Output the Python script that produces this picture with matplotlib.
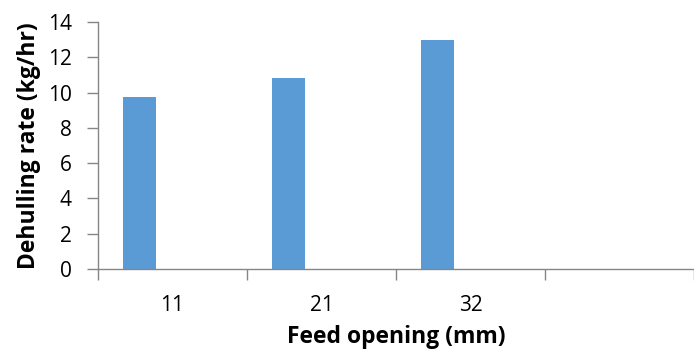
import numpy as np
import matplotlib.pyplot as plt

categories = ['11', '21', '32', '']
rates = [9.75, 10.83, 12.98]

plt.rcParams['font.family'] = ['Open Sans', 'DejaVu Sans']

fig = plt.figure(figsize=(6.94, 3.51), dpi=100)
ax = fig.add_axes([98 / 694, 1 - 269 / 351, 596 / 694, 247 / 351])

# Excel style: three series slots, gap width 150%, only the first has data
w = 1 / 4.5
x = np.arange(len(categories))
ax.bar(x[:len(rates)] - w, rates, width=w, color='#5b9bd5', zorder=2)

ax.set_xlim(-0.5, len(categories) - 0.5)
ax.set_ylim(0, 14)
ax.set_yticks(np.arange(0, 15, 2))

# category boundaries get the tick marks, labels sit in the middle
ax.set_xticks(np.arange(-0.5, len(categories), 1.0))
ax.set_xticklabels([])
ax.set_xticks(x, minor=True)
ax.set_xticklabels(categories, minor=True)
ax.tick_params(axis='x', which='minor', length=0, pad=19, labelsize=15)
ax.tick_params(axis='x', which='major', length=8, width=1, color='#868686')
ax.tick_params(axis='y', length=8, width=1, color='#868686', labelsize=15, pad=11)

for s in ['top', 'right']:
    ax.spines[s].set_visible(False)
for s in ['left', 'bottom']:
    ax.spines[s].set_color('#868686')
    ax.spines[s].set_linewidth(1)

ax.set_xlabel('Feed opening (mm)', fontsize=16.5, fontweight='bold', labelpad=6)
ax.set_ylabel('Dehulling rate (kg/hr)', fontsize=16.5, fontweight='bold', labelpad=5)

fig.savefig('out.png', dpi=100)
